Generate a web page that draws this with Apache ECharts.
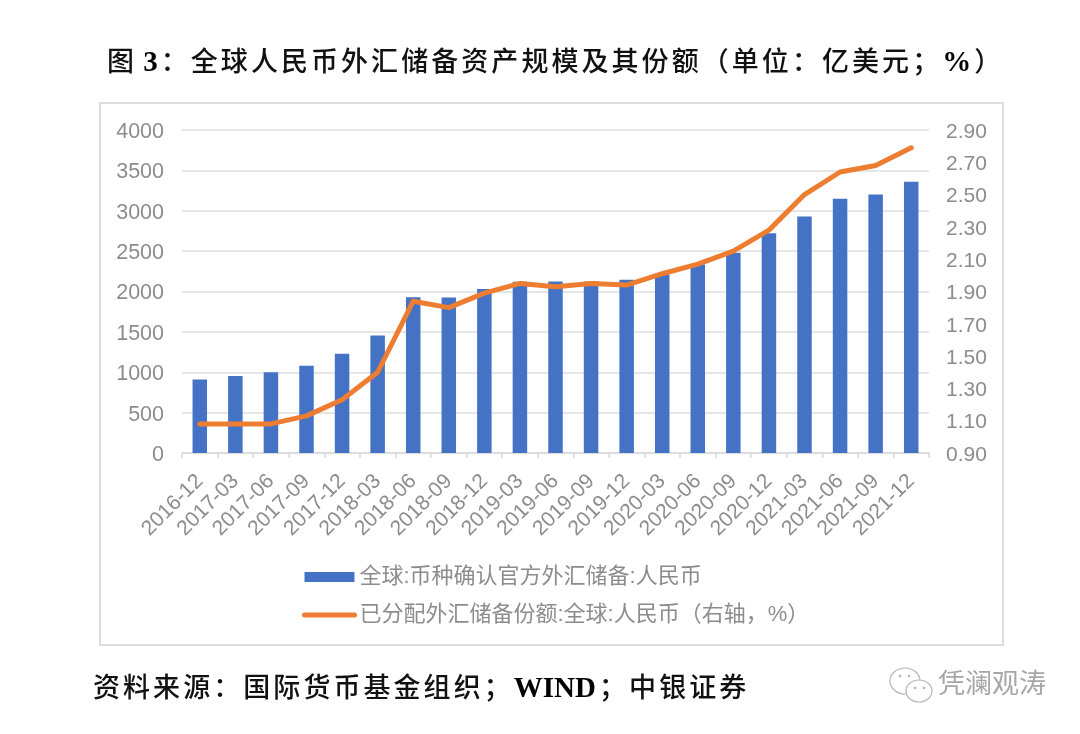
<!DOCTYPE html>
<html>
<head>
<meta charset="utf-8">
<title>全球人民币外汇储备资产规模及其份额</title>
<script src="https://cdn.jsdelivr.net/npm/echarts@6/dist/echarts.min.js"></script>
<style>
  html, body { margin: 0; padding: 0; background: #fff; }
  #chart { width: 1080px; height: 734px; }
</style>
</head>
<body>
<div id="chart"></div>
<script>
  const dates = ['2016-12','2017-03','2017-06','2017-09','2017-12','2018-03','2018-06','2018-09','2018-12',
    '2019-03','2019-06','2019-09','2019-12','2020-03','2020-06','2020-09','2020-12','2021-03','2021-06','2021-09','2021-12'];
  const reserves = [910,955,1000,1080,1230,1455,1930,1925,2030,2120,2125,2125,2145,2215,2335,2480,2720,2930,3150,3200,3360];
  const share = [1.08,1.08,1.08,1.13,1.23,1.40,1.84,1.80,1.89,1.95,1.93,1.95,1.94,2.01,2.07,2.15,2.28,2.50,2.64,2.68,2.79];

  const grey = '#8c8c8c';
  const serif = '"Liberation Serif","Noto Sans CJK SC",serif';
  const cjk = '"Liberation Sans","Noto Sans CJK SC",sans-serif';
  const barName = '全球:币种确认官方外汇储备:人民币';
  const lineName = '已分配外汇储备份额:全球:人民币（右轴，%）';

  // 标题字距比默认的宽，用很窄的空格撑开
  function spaced(text) {
    return text.match(/[A-Za-z0-9%]+| |./g).map(function (t) {
      if (t === ' ') return '{g| }';
      return (/[A-Za-z0-9%]/.test(t) ? '{b|' : '{c|') + t + '}';
    }).join('{s| }');
  }
  const headRich = {
    c: { fontFamily: serif, fontSize: 27, fontWeight: 500, color: '#111' },
    b: { fontFamily: serif, fontSize: 29, fontWeight: 'bold', color: '#000' },
    s: { fontFamily: cjk, fontSize: 11 },
    g: { fontFamily: cjk, fontSize: 11 }
  };
  // 纵轴标签比刻度线略低
  function tickRich(size) {
    return { n: { fontFamily: cjk, fontSize: size, color: grey, padding: [4, 0, 0, 0] } };
  }

  const chart = echarts.init(document.getElementById('chart'));
  chart.setOption({
    animation: false,
    backgroundColor: '#fff',
    title: [
      {
        text: spaced('图 3：全球人民币外汇储备资产规模及其份额（单位：亿美元；%）'),
        left: 102, top: 44,
        textStyle: { rich: headRich }
      },
      {
        text: spaced('资料来源：国际货币基金组织；WIND；中银证券'),
        left: 88, top: 670,
        textStyle: { rich: headRich }
      }
    ],
    legend: {
      orient: 'vertical',
      left: 297, top: 561,
      itemWidth: 50, itemHeight: 10, itemGap: 16,
      textStyle: { fontFamily: cjk, fontSize: 22, color: grey },
      data: [
        { name: barName, icon: 'rect' },
        { name: lineName, itemStyle: { opacity: 0 }, lineStyle: { width: 5, cap: 'round' } }
      ]
    },
    grid: { left: 182, right: 151, top: 130, bottom: 281 },
    xAxis: {
      type: 'category',
      data: dates,
      axisLine: { lineStyle: { color: '#d9d9d9', width: 1.5 } },
      axisTick: { show: true, alignWithLabel: false, length: 5, lineStyle: { color: '#d9d9d9', width: 1.5 } },
      axisLabel: { rotate: 45, interval: 0, margin: 25, fontFamily: cjk, fontSize: 21, color: grey }
    },
    yAxis: [
      {
        type: 'value', min: 0, max: 4000, interval: 500,
        axisLine: { show: false }, axisTick: { show: false },
        axisLabel: { margin: 18, rich: tickRich(21.5),
          formatter: function (v) { return '{n|' + v + '}'; } },
        splitLine: { lineStyle: { color: '#dedede', width: 1.5 } }
      },
      {
        type: 'value', min: 0.9, max: 2.9, interval: 0.2,
        axisLine: { show: false }, axisTick: { show: false },
        axisLabel: { margin: 17, rich: tickRich(21),
          formatter: function (v) { return '{n|' + v.toFixed(2) + '}'; } },
        splitLine: { show: false }
      }
    ],
    series: [
      {
        name: barName,
        type: 'bar',
        barWidth: 14.5,
        itemStyle: { color: '#4472c4' },
        data: reserves
      },
      {
        name: lineName,
        type: 'line',
        yAxisIndex: 1,
        symbol: 'none',
        lineStyle: { color: '#ed7d31', width: 5, cap: 'round', join: 'round' },
        itemStyle: { color: '#ed7d31' },
        data: share
      }
    ],
    graphic: [
      { type: 'rect', z: -1, shape: { x: 100, y: 103, width: 903, height: 542 },
        style: { fill: '#fff', stroke: '#dcdcdc', lineWidth: 2 } },
      { type: 'text', left: 938, top: 672,
        style: { text: '凭澜观涛', font: '27px ' + cjk, fill: '#a6a6a6' } },
      // 水印图标
      { type: 'ellipse', shape: { cx: 905, cy: 681, rx: 15, ry: 13 },
        style: { fill: '#fff', stroke: '#b5b5b5', lineWidth: 1.2 } },
      { type: 'ellipse', shape: { cx: 919, cy: 691, rx: 13, ry: 11 },
        style: { fill: '#fff', stroke: '#b5b5b5', lineWidth: 1.2 } },
      { type: 'circle', shape: { cx: 900, cy: 676, r: 1.3 }, style: { fill: '#b5b5b5' } },
      { type: 'circle', shape: { cx: 909, cy: 676, r: 1.3 }, style: { fill: '#b5b5b5' } },
      { type: 'circle', shape: { cx: 915, cy: 688, r: 1.3 }, style: { fill: '#b5b5b5' } },
      { type: 'circle', shape: { cx: 924, cy: 688, r: 1.3 }, style: { fill: '#b5b5b5' } }
    ]
  });
</script>
</body>
</html>
